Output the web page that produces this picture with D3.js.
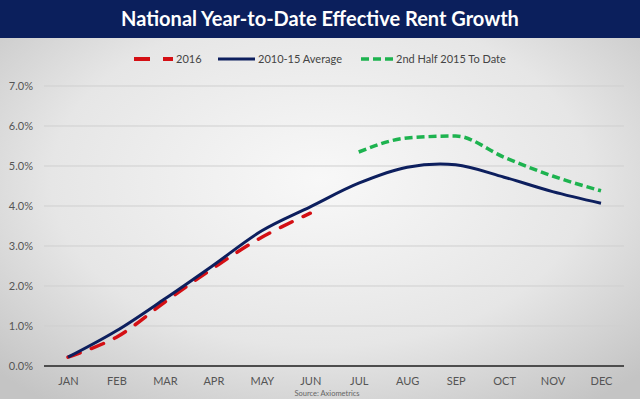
<!DOCTYPE html>
<html>
<head>
<meta charset="utf-8">
<script src="https://cdn.jsdelivr.net/npm/d3@7"></script>
<style>
  html, body { margin: 0; padding: 0; background: #ddd; }
  svg { display: block; font-family: Lato, "Open Sans", sans-serif; }
</style>
</head>
<body>
<svg id="chart" width="640" height="399"></svg>
<script>
// Chart data
const months = ['JAN', 'FEB', 'MAR', 'APR', 'MAY', 'JUN', 'JUL', 'AUG', 'SEP', 'OCT', 'NOV', 'DEC'];
const avgValues = [0.22, 0.88, 1.68, 2.52, 3.38, 3.98, 4.57, 4.97, 5.03, 4.72, 4.36, 4.07];
const y2016Values = [0.22, 0.72, 1.60, 2.45, 3.22, 3.82];
const halfMonths = ['JUL', 'AUG', 'SEP', 'OCT', 'NOV', 'DEC'];
const halfValues = [5.35, 5.70, 5.75, 5.22, 4.75, 4.38];
const yTicks = [0, 1, 2, 3, 4, 5, 6, 7];

const width = 640, height = 399;
const svg = d3.select('#chart');

// Background gradient
const defs = svg.append('defs');
const grad = defs.append('radialGradient')
    .attr('id', 'bg')
    .attr('cx', '50%').attr('cy', '45%').attr('r', '70%');
grad.append('stop').attr('offset', '0%').attr('stop-color', '#f8f8f8');
grad.append('stop').attr('offset', '60%').attr('stop-color', '#e6e6e6');
grad.append('stop').attr('offset', '100%').attr('stop-color', '#c4c4c4');

svg.append('rect')
    .attr('width', width).attr('height', height)
    .attr('fill', 'url(#bg)');

// Title bar
svg.append('rect')
    .attr('width', width).attr('height', 38)
    .attr('fill', '#0b1f5c');
svg.append('text')
    .attr('x', width / 2).attr('y', 26)
    .attr('text-anchor', 'middle')
    .attr('fill', '#fff')
    .attr('font-size', '20px')
    .attr('font-weight', 'bold')
    .text('National Year-to-Date Effective Rent Growth');

// Scales
const x = d3.scalePoint()
    .domain(months)
    .range([68, 601]);
const y = d3.scaleLinear()
    .domain([0, 7])
    .range([366, 86]);

// Gridlines
svg.append('g')
    .selectAll('line')
    .data(yTicks.filter(d => d > 0))
    .enter().append('line')
    .attr('x1', 44).attr('x2', 624)
    .attr('y1', d => y(d)).attr('y2', d => y(d))
    .attr('stroke', '#cfcfcf')
    .attr('stroke-width', 1);

// Y axis labels
const yAxis = d3.axisLeft(y)
    .tickValues(yTicks)
    .tickFormat(d => d.toFixed(1) + '%')
    .tickSize(0)
    .tickPadding(0);
const yg = svg.append('g')
    .attr('transform', 'translate(33,0)')
    .call(yAxis);
yg.select('.domain').remove();
yg.selectAll('text')
    .attr('fill', '#555')
    .attr('font-size', '11px')
    .attr('font-family', 'Lato, sans-serif');

// Baseline
svg.append('line')
    .attr('x1', 44).attr('x2', 624)
    .attr('y1', y(0)).attr('y2', y(0))
    .attr('stroke', '#4d4d4d')
    .attr('stroke-width', 2);

// X axis labels
const xAxis = d3.axisBottom(x)
    .tickSize(0)
    .tickPadding(0);
const xg = svg.append('g')
    .attr('transform', 'translate(0,377)')
    .call(xAxis);
xg.select('.domain').remove();
xg.selectAll('text')
    .attr('fill', '#555')
    .attr('font-size', '11px')
    .attr('font-family', 'Lato, sans-serif');

// Source note
svg.append('text')
    .attr('x', 327).attr('y', 396)
    .attr('text-anchor', 'middle')
    .attr('fill', '#666')
    .attr('font-size', '7.5px')
    .text('Source: Axiometrics');

// Lines (Excel-style smoothing)
const line = d3.line()
    .x(d => x(d.m))
    .y(d => y(d.v))
    .curve(d3.curveCatmullRom.alpha(0.5));
const lineFlat = d3.line()
    .x(d => x(d.m))
    .y(d => y(d.v))
    .curve(d3.curveMonotoneX);

const data2016 = y2016Values.map((v, i) => ({ m: months[i], v }));
const dataAvg = avgValues.map((v, i) => ({ m: months[i], v }));
const dataHalf = halfValues.map((v, i) => ({ m: halfMonths[i], v }));

svg.append('path')
    .datum(data2016)
    .attr('d', line)
    .attr('fill', 'none')
    .attr('stroke', '#d40f14')
    .attr('stroke-width', 3.5)
    .attr('stroke-dasharray', '13,12')
    .attr('stroke-linecap', 'round');

svg.append('path')
    .datum(dataAvg)
    .attr('d', line)
    .attr('fill', 'none')
    .attr('stroke', '#0d1f5e')
    .attr('stroke-width', 3);

svg.append('path')
    .datum(dataHalf)
    .attr('d', lineFlat)
    .attr('fill', 'none')
    .attr('stroke', '#1db34f')
    .attr('stroke-width', 3.5)
    .attr('stroke-dasharray', '8,4');

// Legend
const legendItems = [
    { label: '2016', x1: 134, x2: 173, color: '#d40f14', w: 4, dash: '16,13' },
    { label: '2010-15 Average', x1: 218, x2: 255, color: '#0d1f5e', w: 3, dash: 'none' },
    { label: '2nd Half 2015 To Date', x1: 361, x2: 393, color: '#1db34f', w: 3.5, dash: '8,4' },
];
const lg = svg.append('g');
legendItems.forEach(it => {
    lg.append('line')
        .attr('x1', it.x1).attr('x2', it.x2)
        .attr('y1', 59).attr('y2', 59)
        .attr('stroke', it.color)
        .attr('stroke-width', it.w)
        .attr('stroke-dasharray', it.dash);
    lg.append('text')
        .attr('x', it.x2 + 3).attr('y', 63)
        .attr('fill', '#444')
        .attr('font-size', '11px')
        .text(it.label);
});
</script>
</body>
</html>
